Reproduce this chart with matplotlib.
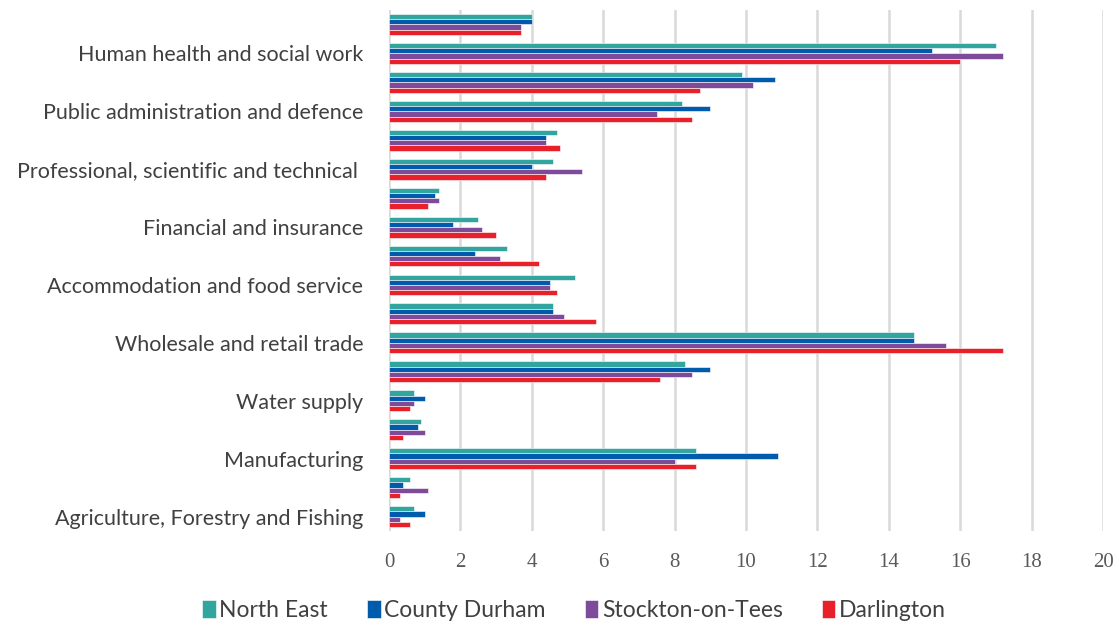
import numpy as np
import matplotlib.pyplot as plt

# categories listed bottom-up, only every other one is labelled on the axis
categories = [
    'Agriculture, Forestry and Fishing', 'Mining and quarrying', 'Manufacturing',
    'Electricity and gas', 'Water supply', 'Construction',
    'Wholesale and retail trade', 'Transport and storage',
    'Accommodation and food service', 'Information and communication',
    'Financial and insurance', 'Real estate',
    'Professional, scientific and technical ', 'Administrative and support',
    'Public administration and defence', 'Education',
    'Human health and social work', 'Arts, entertainment and other',
]
shown = [c if i % 2 == 0 else '' for i, c in enumerate(categories)]

series = ['North East', 'County Durham', 'Stockton-on-Tees', 'Darlington']
north_east = [0.7, 0.6, 8.6, 0.9, 0.7, 8.3, 14.7, 4.6, 5.2, 3.3, 2.5, 1.4, 4.6, 4.7, 8.2, 9.9, 17.0, 4.0]
county_durham = [1.0, 0.4, 10.9, 0.8, 1.0, 9.0, 14.7, 4.6, 4.5, 2.4, 1.8, 1.3, 4.0, 4.4, 9.0, 10.8, 15.2, 4.0]
stockton = [0.3, 1.1, 8.0, 1.0, 0.7, 8.5, 15.6, 4.9, 4.5, 3.1, 2.6, 1.4, 5.4, 4.4, 7.5, 10.2, 17.2, 3.7]
darlington = [0.6, 0.3, 8.6, 0.4, 0.6, 7.6, 17.2, 5.8, 4.7, 4.2, 3.0, 1.1, 4.4, 4.8, 8.5, 8.7, 16.0, 3.7]
colors = ['#33A59F', '#005BAC', '#7E4A9A', '#E8202A']

fig = plt.figure(figsize=(11.19, 6.28), dpi=100)
# plot area: x 389..1103 px, y 10..531 px
ax = fig.add_axes([389 / 1119, 1 - 531 / 628, 714 / 1119, 521 / 628])

y = np.arange(len(categories))
h = 0.18
for i, (vals, name, col) in enumerate(zip([north_east, county_durham, stockton, darlington], series, colors)):
    off = (1.5 - i) * h
    ax.barh(y + off, vals, height=h, color=col, label=name, edgecolor='white', linewidth=0.4, zorder=3)

ax.set_xlim(0, 20)
ax.set_ylim(-0.5, 17.5)
ax.set_xticks(range(0, 21, 2))
ax.set_yticks(y)
ax.set_yticklabels(shown, fontfamily='Lato', fontsize=15.5, color='#404040')
ax.tick_params(axis='y', length=0, pad=18.5)
ax.tick_params(axis='x', length=0, pad=16, labelsize=15, labelcolor='#595959')
for lab in ax.get_xticklabels():
    lab.set_fontfamily('Liberation Serif')

ax.grid(axis='x', color='#D9D9D9', linewidth=1.8, zorder=0)
for s in ax.spines.values():
    s.set_visible(False)

fig.legend(loc='lower center', bbox_to_anchor=(0.513, -0.022), ncol=4, frameon=False,
           prop={'family': 'Lato', 'size': 16.5}, handlelength=0.6, handleheight=0.8,
           handletextpad=0.15, columnspacing=1.7, labelcolor='#404040')

fig.savefig('out.png', dpi=100)
